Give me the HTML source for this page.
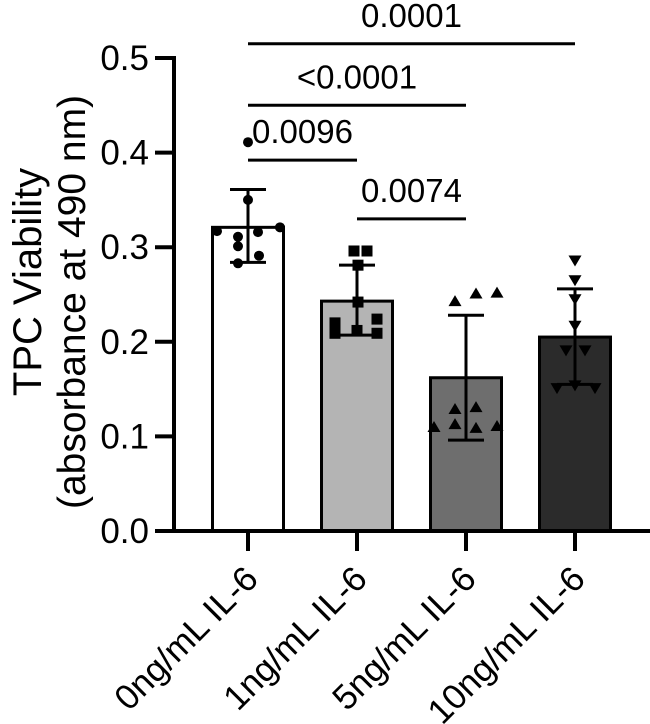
<!DOCTYPE html>
<html><head><meta charset="utf-8"><style>
html,body{margin:0;padding:0;background:#fff;}
svg{display:block;font-family:"Liberation Sans",Arial,sans-serif;}
</style></head><body>
<svg id="chart" width="650" height="724" viewBox="0 0 650 724" xmlns="http://www.w3.org/2000/svg">
<g id="ytitle">
<text transform="translate(41,282) rotate(-90)" text-anchor="middle" font-size="40">TPC Viability</text>
<text transform="translate(85,302) rotate(-90)" text-anchor="middle" font-size="39">(absorbance at 490 nm)</text>
</g>
</svg>
<script>
const categories=["0ng/mL IL-6","1ng/mL IL-6","5ng/mL IL-6","10ng/mL IL-6"];
const means=[0.321,0.243,0.162,0.205];
const sdUpper=[0.361,0.281,0.228,0.256];
const sdLower=[0.284,0.207,0.096,0.155];
const pts0=[0.411,0.350,0.317,0.321,0.311,0.316,0.301,0.291,0.283];
const pts1=[0.296,0.296,0.281,0.242,0.220,0.209,0.212,0.224,0.209];
const pts2=[0.243,0.251,0.252,0.129,0.131,0.110,0.113,0.109,0.111];
const pts3=[0.286,0.265,0.245,0.217,0.191,0.191,0.151,0.154,0.151];
const jitter0=[0,0,-31,32,-10,10,-10,11,-10];
const jitter1=[-3,10,1,1,-22,-22,0,20,20];
const jitter2=[-11,10,31,-11,10,-32,-11,10,31];
const jitter3=[0,0,0,0,-9,10,-18,0,20];
const yTicks=[0,0.1,0.2,0.3,0.4,0.5];
const yTickLabels=["0.0","0.1","0.2","0.3","0.4","0.5"];
const sigPairs=[[0,1],[1,2],[0,2],[0,3]];
const sigLabels=["0.0096","0.0074","<0.0001","0.0001"];
const sigHeights=[0.392,0.330,0.450,0.515];
const fills=["#ffffff","#b4b4b4","#6e6e6e","#2b2b2b"];
const NS="http://www.w3.org/2000/svg";
const svg=document.getElementById('chart');
const y=v=>531-v*946;
const x=i=>248+i*109;
const bw=71;
function mk(tag,attrs,parent){const e=document.createElementNS(NS,tag);for(const k in attrs)e.setAttribute(k,attrs[k]);(parent||svg).appendChild(e);return e;}
categories.forEach((c,i)=>{
 const r=mk('rect',{x:x(i)-bw/2,y:y(means[i]),width:bw,height:y(0)-y(means[i]),fill:fills[i],stroke:'#000','stroke-width':3});
 
 
});
const allPts=[pts0,pts1,pts2,pts3];const jit=[jitter0,jitter1,jitter2,jitter3];
allPts.forEach((arr,i)=>{arr.forEach((v,j)=>{
 const cx=x(i)+jit[i][j],cy=y(v);let e;
 if(i===0)e=mk('circle',{cx:cx,cy:cy,r:5,fill:'#000'});
 else if(i===1)e=mk('rect',{x:cx-5.5,y:cy-5.5,width:11,height:11,fill:'#000'});
 else if(i===2)e=mk('polygon',{points:`${cx},${cy-6} ${cx-6.5},${cy+5} ${cx+6.5},${cy+5}`,fill:'#000'});
 else e=mk('polygon',{points:`${cx},${cy+6} ${cx-6.5},${cy-5} ${cx+6.5},${cy-5}`,fill:'#000'});
 
 
});});
categories.forEach((c,i)=>{
 const g=mk('g',{stroke:'#000','stroke-width':3});
 
 
 mk('line',{x1:x(i),x2:x(i),y1:y(sdUpper[i]),y2:y(sdLower[i])},g);
 mk('line',{x1:x(i)-18,x2:x(i)+18,y1:y(sdUpper[i]),y2:y(sdUpper[i])},g);
 mk('line',{x1:x(i)-18,x2:x(i)+18,y1:y(sdLower[i]),y2:y(sdLower[i])},g);
});
const ax=mk('g',{stroke:'#000','stroke-width':4});


mk('line',{x1:174,x2:174,y1:y(0.5)-2,y2:y(0)+2},ax);
mk('line',{x1:172,x2:650,y1:y(0),y2:y(0)},ax);
yTicks.forEach((t,k)=>{
 mk('line',{x1:155,x2:174,y1:y(t),y2:y(t)},ax);
 const tx=mk('text',{x:149,y:y(t)+12,'text-anchor':'end','font-size':35,fill:'#000',stroke:'none'});
 tx.textContent=yTickLabels[k];
 
 
});
categories.forEach((c,i)=>{
 mk('line',{x1:x(i),x2:x(i),y1:y(0),y2:y(0)+20},ax);
 const tx=mk('text',{transform:`translate(${x(i)+12},${y(0)+50}) rotate(-45)`,'text-anchor':'end','font-size':35,fill:'#000',stroke:'none'});
 tx.textContent=c;
 
 
});
sigPairs.forEach((p,k)=>{
 const yy=y(sigHeights[k]);
 const l=mk('line',{x1:x(p[0]),x2:x(p[1]),y1:yy,y2:yy,stroke:'#000','stroke-width':3});
 
 
 const t=mk('text',{x:(x(p[0])+x(p[1]))/2,y:yy-17,'text-anchor':'middle','font-size':33,fill:'#000'});
 t.textContent=sigLabels[k];
 
 
});
</script>
</body></html>
